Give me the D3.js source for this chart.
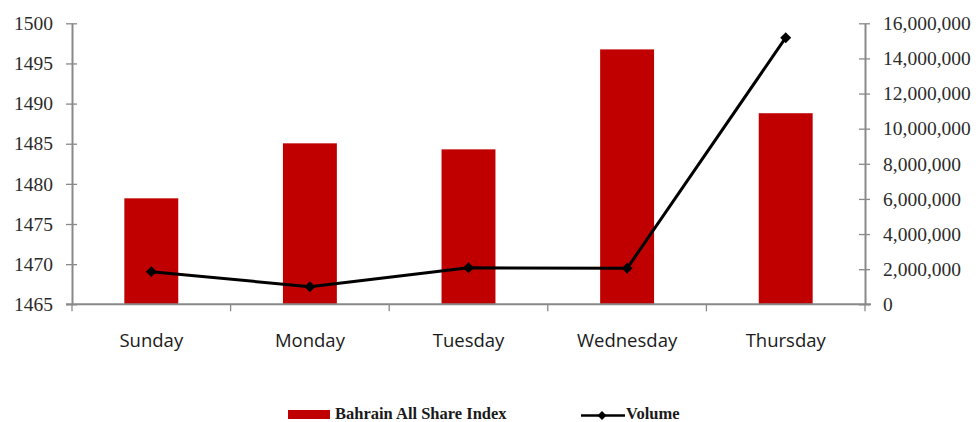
<!DOCTYPE html>
<html>
<head>
<meta charset="utf-8">
<script src="https://cdn.jsdelivr.net/npm/d3@7"></script>
<style>
  html, body { margin: 0; padding: 0; background: #fff; }
  svg { display: block; }
  .val-axis text { font-family: "Liberation Serif", "DejaVu Serif", serif; font-size: 19.5px; fill: #2b2b2b; }
  .cat-axis text { font-family: "Open Sans", "Liberation Sans", sans-serif; font-size: 18.5px; fill: #1a1a1a; }
  .legend text { font-family: "Liberation Serif", "DejaVu Serif", serif; font-size: 16.5px; font-weight: bold; fill: #1a1a1a; }
</style>
</head>
<body>
<svg id="chart" width="978" height="422"></svg>
<script>
// Weekly figures: index close per day and traded volume
const days = ["Sunday", "Monday", "Tuesday", "Wednesday", "Thursday"];
const indexValues = [1478.2, 1485.05, 1484.3, 1496.75, 1488.8];
const volumeValues = [1860000, 1000000, 2080000, 2050000, 15180000];
const indexTicks = [1465, 1470, 1475, 1480, 1485, 1490, 1495, 1500];
const volumeTicks = [0, 2000000, 4000000, 6000000, 8000000, 10000000, 12000000, 14000000, 16000000];
const seriesNames = ["Bahrain All Share Index", "Volume"];

(function () {
  const svg = d3.select("#chart");
  const plotLeft = 72, plotRight = 865, plotTop = 23.3, plotBottom = 304.3;
  const axisColor = "#898989";
  const barColor = "#c00000";

  const x = d3.scaleBand().domain(days).range([plotLeft, plotRight]).paddingInner(0.66).paddingOuter(0.33);
  const yL = d3.scaleLinear().domain([1465, 1500]).range([plotBottom, plotTop]);
  const yR = d3.scaleLinear().domain([0, 16000000]).range([plotBottom, plotTop]);

  // Bars
  svg.append("g").selectAll("rect").data(days).join("rect")
    .attr("x", d => x(d))
    .attr("width", x.bandwidth())
    .attr("y", (d, i) => yL(indexValues[i]))
    .attr("height", (d, i) => plotBottom - yL(indexValues[i]))
    .attr("fill", barColor);

  // Left axis
  const gL = svg.append("g").attr("class", "val-axis").attr("transform", `translate(${plotLeft},0)`)
    .call(d3.axisLeft(yL).tickValues(indexTicks).tickFormat(d3.format("d")).tickSizeInner(6).tickSizeOuter(0).tickPadding(13));
  // Right axis
  const gR = svg.append("g").attr("class", "val-axis").attr("transform", `translate(${plotRight},0)`)
    .call(d3.axisRight(yR).tickValues(volumeTicks).tickFormat(d3.format(",")).tickSizeInner(6).tickSizeOuter(0).tickPadding(12));

  [gL, gR].forEach(g => {
    g.attr("font-family", null).attr("font-size", null);
    g.select(".domain").attr("stroke", axisColor).attr("stroke-width", 2);
    g.selectAll(".tick line").attr("x1", -6).attr("x2", 5)
      .attr("stroke", axisColor).attr("stroke-width", 1.3);
  });

  // Category axis
  const gX = svg.append("g").attr("class", "cat-axis").attr("transform", `translate(0,${plotBottom})`)
    .call(d3.axisBottom(x).tickSize(0).tickPadding(30));
  gX.attr("font-family", null).attr("font-size", null);
  gX.select(".domain").attr("stroke", axisColor).attr("stroke-width", 2)
    .attr("d", `M${plotLeft - 6},0H${plotRight + 6}`);
  // Band boundary ticks
  const step = x.step();
  const bounds = d3.range(days.length + 1).map(i => x(days[0]) - x.paddingOuter() * step + i * step);
  gX.append("g").selectAll("line").data(bounds).join("line")
    .attr("x1", d => d).attr("x2", d => d).attr("y1", 0).attr("y2", 7)
    .attr("stroke", axisColor).attr("stroke-width", 1.3);

  // Volume line with diamond markers
  const cx = d => x(d) + x.bandwidth() / 2;
  const line = d3.line().x((d, i) => cx(days[i])).y(d => yR(d));
  svg.append("path").datum(volumeValues).attr("d", line)
    .attr("fill", "none").attr("stroke", "#000").attr("stroke-width", 3).attr("stroke-linejoin", "round");
  svg.append("g").selectAll("path").data(volumeValues).join("path")
    .attr("d", d3.symbol().type(d3.symbolSquare).size(60))
    .attr("transform", (d, i) => `translate(${cx(days[i])},${yR(d)}) rotate(45)`)
    .attr("fill", "#000");

  // Legend
  const lg = svg.append("g").attr("class", "legend");
  lg.append("rect").attr("x", 288).attr("y", 410).attr("width", 42).attr("height", 9).attr("fill", barColor);
  lg.append("text").attr("x", 335).attr("y", 419).text(seriesNames[0]);
  lg.append("line").attr("x1", 581).attr("x2", 625).attr("y1", 415.5).attr("y2", 415.5).attr("stroke", "#000").attr("stroke-width", 2.5);
  lg.append("path").attr("d", d3.symbol().type(d3.symbolSquare).size(40)).attr("transform", "translate(602,415.5) rotate(45)").attr("fill", "#000");
  lg.append("text").attr("x", 626).attr("y", 419).text(seriesNames[1]);
})();
</script>
</body>
</html>
